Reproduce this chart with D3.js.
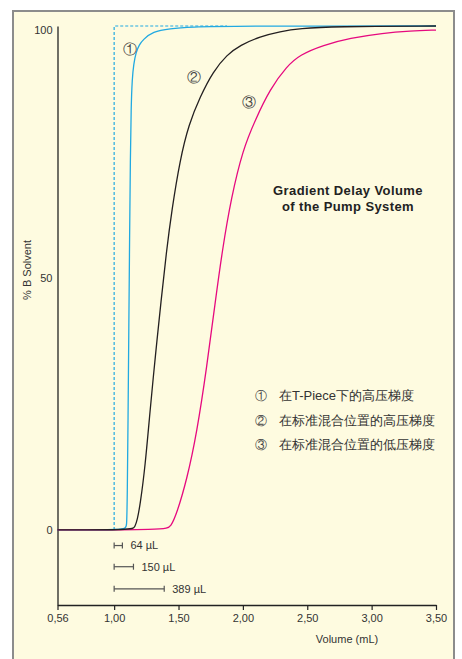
<!DOCTYPE html>
<html lang="zh">
<head>
    <meta charset="UTF-8">
    <title>Gradient Delay Volume</title>
    <script src="https://d3js.org/d3.v7.min.js"></script>
    <style>
        html, body { margin: 0; padding: 0; background: #fff; }
        svg text { font-family: "Liberation Sans", Arial, sans-serif; }
    </style>
</head>
<body>
    <svg id="chart"></svg>

    <script>
        // ---- data (volume in mL, % B) ----
        const xTicks = [0.56, 1.0, 1.5, 2.0, 2.5, 3.0, 3.5];
        const yTicks = [0, 50, 100];

        // ideal gradient (dashed)
        const idealCurve = [[1.0, 0], [1.0, 100], [1.877, 100]];

        // 1: high pressure gradient at T-piece
        const tPieceHigh = [[0.56, 0], [1.09, 0], [1.097, 0.5], [1.102, 6], [1.108, 22], [1.114, 40],
            [1.12, 58], [1.126, 74], [1.132, 84], [1.14, 89.5], [1.152, 92.5], [1.17, 94.8], [1.195, 96.3],
            [1.225, 97.3], [1.30, 98.9], [1.43, 99.5], [1.6, 99.8], [1.9, 100], [3.5, 100]];

        // 2: high pressure gradient, standard mixer position
        const mixerHigh = [[0.56, 0], [1.14, 0], [1.16, 0.5], [1.18, 2], [1.202, 5], [1.241, 12.6],
            [1.28, 24], [1.32, 34.5], [1.365, 45.6], [1.405, 55], [1.448, 63.5], [1.512, 73.5],
            [1.58, 80.5], [1.668, 86.0], [1.769, 91.0], [1.877, 94.3], [1.978, 96.2], [2.134, 97.9],
            [2.289, 98.9], [2.444, 99.5], [2.70, 99.9], [3.5, 100]];

        // 3: low pressure gradient, standard mixer position
        const mixerLow = [[0.56, 0], [1.40, 0], [1.44, 0.6], [1.487, 3.3], [1.564, 9.9], [1.642, 19.2],
            [1.72, 32.4], [1.784, 45.0], [1.84, 55.5], [1.91, 66], [2.0, 75.5], [2.095, 81.3], [2.211, 87.5],
            [2.341, 92.0], [2.444, 94.3], [2.623, 96.2], [2.832, 97.6], [3.088, 98.6], [3.3, 99.0], [3.5, 99.2]];

        const delayVolumes = [64, 150, 389]; // µL
        const markers = ["①", "②", "③"];
        const legendLabels = ["在T-Piece下的高压梯度", "在标准混合位置的高压梯度", "在标准混合位置的低压梯度"];

        const width = 462, height = 659;
        const cream = "#fefbe0";
        const cyan = "#21a9e1", magenta = "#e6097f", black = "#231f20";

        const svg = d3.select("#chart").attr("width", width).attr("height", height);

        // frame
        svg.append("rect")
            .attr("x", 13).attr("y", 11)
            .attr("width", 441).attr("height", 660)
            .attr("fill", cream)
            .attr("stroke", "#8c8c8c")
            .attr("stroke-width", 2);

        const x = d3.scaleLinear().domain([0.56, 3.5]).range([57.5, 436]);
        const y = d3.scaleLinear().domain([-14.9, 100]).range([605, 26]);

        // x axis
        const fmt = d => d.toFixed(2).replace(".", ",");
        const xAxis = svg.append("g")
            .attr("transform", `translate(0,${y(-14.9)})`)
            .call(d3.axisBottom(x).tickValues(xTicks).tickFormat(fmt).tickSize(5).tickSizeOuter(0).tickPadding(4));
        xAxis.select(".domain").attr("stroke", "#222").attr("stroke-width", 1.3);
        xAxis.selectAll(".tick line").attr("stroke", "#222").attr("stroke-width", 1.2);
        xAxis.selectAll("text").attr("font-size", 11).attr("fill", "#333");

        // y axis (line only, labels without ticks)
        const yAxis = svg.append("g")
            .attr("transform", `translate(${x(0.56)},0)`)
            .call(d3.axisLeft(y).tickValues(yTicks).tickSize(0).tickPadding(5));
        yAxis.select(".domain").attr("stroke", "#222").attr("stroke-width", 1.3);
        yAxis.selectAll("text").attr("font-size", 11).attr("fill", "#333")
            .attr("dy", d => d === 100 ? "0.65em" : "0.32em");

        svg.append("text")
            .attr("transform", `translate(31,${y(50) - 8}) rotate(-90)`)
            .attr("text-anchor", "middle")
            .attr("font-size", 11)
            .attr("fill", "#333")
            .text("% B Solvent");

        svg.append("text")
            .attr("x", 347).attr("y", 643)
            .attr("text-anchor", "middle")
            .attr("font-size", 11)
            .attr("fill", "#333")
            .text("Volume (mL)");

        // curves
        const line = d3.line()
            .x(d => x(d[0]))
            .y(d => y(d[1]))
            .curve(d3.curveBasis);

        svg.append("path")
            .datum(idealCurve)
            .attr("d", d3.line().x(d => x(d[0])).y(d => y(d[1])))
            .attr("fill", "none")
            .attr("stroke", cyan)
            .attr("stroke-width", 1.2)
            .attr("stroke-dasharray", "3,2");

        [[tPieceHigh, cyan], [mixerLow, magenta], [mixerHigh, black]].forEach(([data, color]) => {
            svg.append("path")
                .datum(data)
                .attr("d", line)
                .attr("fill", "none")
                .attr("stroke", color)
                .attr("stroke-width", 1.3);
        });

        // curve markers
        const markerAt = [[1.124, 95.4], [1.623, 89.8], [2.05, 84.9]];
        svg.selectAll(".mk")
            .data(markers)
            .enter()
            .append("text")
            .attr("x", (d, i) => x(markerAt[i][0]))
            .attr("y", (d, i) => y(markerAt[i][1]))
            .attr("dy", "0.35em")
            .attr("text-anchor", "middle")
            .attr("font-family", "'Noto Sans CJK SC', sans-serif")
            .attr("font-size", 14)
            .attr("fill", "#444")
            .text(d => d);

        // delay volume bars
        const barY = [-3.1, -7.3, -11.7];
        const bars = svg.selectAll(".bar")
            .data(delayVolumes)
            .enter()
            .append("g");
        bars.append("line")
            .attr("x1", x(1.0)).attr("x2", d => x(1.0 + d / 1000))
            .attr("y1", (d, i) => y(barY[i])).attr("y2", (d, i) => y(barY[i]));
        bars.append("line")
            .attr("x1", x(1.0)).attr("x2", x(1.0))
            .attr("y1", (d, i) => y(barY[i]) - 3).attr("y2", (d, i) => y(barY[i]) + 3);
        bars.append("line")
            .attr("x1", d => x(1.0 + d / 1000)).attr("x2", d => x(1.0 + d / 1000))
            .attr("y1", (d, i) => y(barY[i]) - 3).attr("y2", (d, i) => y(barY[i]) + 3);
        bars.selectAll("line").attr("stroke", "#555").attr("stroke-width", 1.2);
        bars.append("text")
            .attr("x", d => x(1.0 + d / 1000) + 8)
            .attr("y", (d, i) => y(barY[i]))
            .attr("dy", "0.35em")
            .attr("font-size", 11)
            .attr("fill", "#333")
            .text(d => `${d} µL`);

        // title
        const title = svg.append("text")
            .attr("x", 348).attr("y", 195)
            .attr("text-anchor", "middle")
            .attr("font-size", 13)
            .attr("font-weight", "bold")
            .attr("letter-spacing", 0.4)
            .attr("fill", "#222");
        title.append("tspan").attr("x", 348).text("Gradient Delay Volume");
        title.append("tspan").attr("x", 348).attr("dy", 16).text("of the Pump System");

        // legend
        const legend = svg.selectAll(".legend")
            .data(legendLabels)
            .enter()
            .append("g")
            .attr("transform", (d, i) => `translate(0,${400 + i * 24.5})`);
        legend.append("text")
            .attr("x", 261)
            .attr("text-anchor", "middle")
            .attr("font-family", "'Noto Sans CJK SC', sans-serif")
            .attr("font-size", 12)
            .attr("fill", "#444")
            .text((d, i) => markers[i]);
        legend.append("text")
            .attr("x", 279)
            .attr("font-family", "'Noto Sans CJK SC', sans-serif")
            .attr("font-size", 13)
            .attr("fill", "#333")
            .text(d => d);
    </script>
</body>
</html>
